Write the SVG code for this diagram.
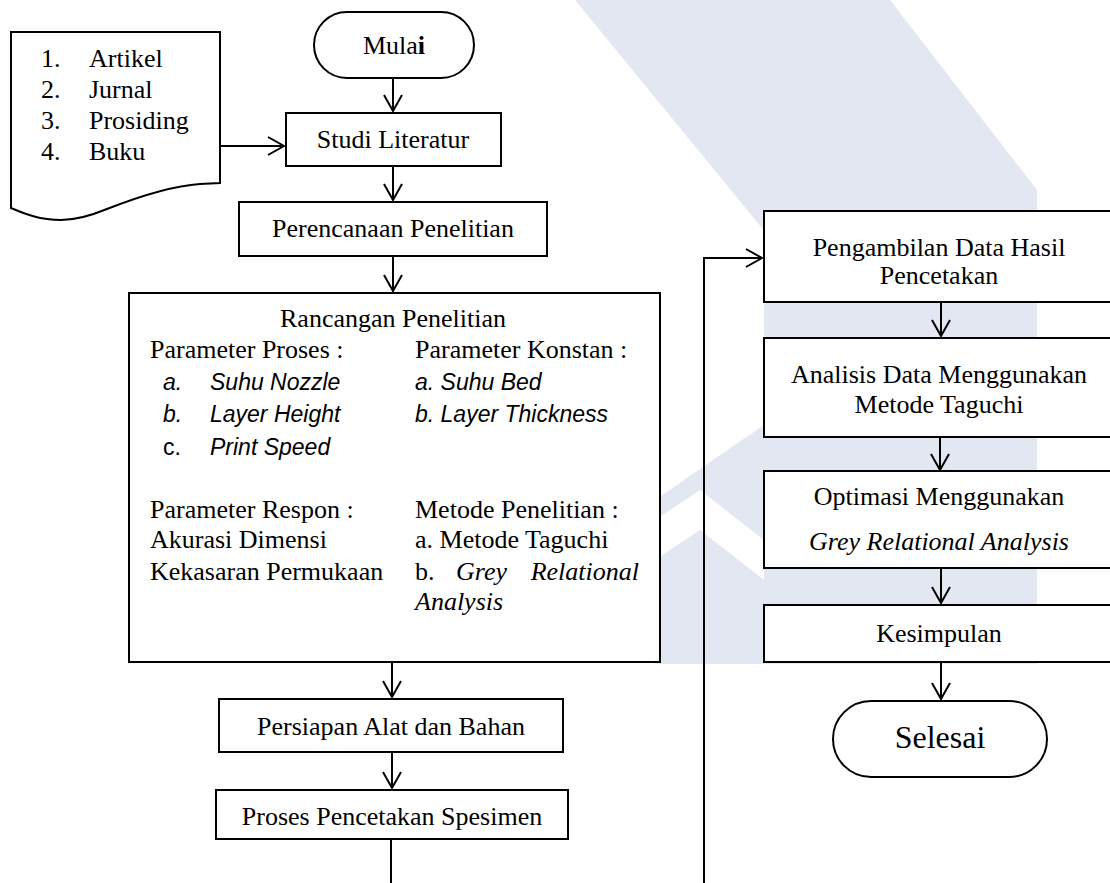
<svg xmlns="http://www.w3.org/2000/svg" width="1110" height="883" viewBox="0 0 1110 883">
<defs>
<style>
.box{fill:#fff;stroke:#000;stroke-width:2}
.wm{fill:#e2e7f2;stroke:none}
.t{font-family:"Liberation Serif","Times New Roman",serif;font-size:26px;fill:#000}
.big{font-size:32px}
.c{text-anchor:middle}
.i{font-style:italic}
.s{font-family:"Liberation Sans",Arial,sans-serif;font-size:23px;fill:#000}
.cn{fill:none;stroke:#000;stroke-width:2}
</style>
<marker id="arr" viewBox="-18 -11 20 22" refX="0" refY="0" markerWidth="20" markerHeight="22" markerUnits="userSpaceOnUse" orient="auto">
<path d="M-16,-9 L0,0 L-16,9" fill="none" stroke="#000" stroke-width="2"/>
</marker>
</defs>
<rect width="1110" height="883" fill="#fff"/>
<g id="watermark">
<polygon class="wm" points="575,0 890,0 1037,190 1037,250 780,250"/>
<rect class="wm" x="764" y="245" width="273" height="419"/>
<polygon class="wm" points="655,500 764,425 764,664 655,664"/>
<polygon fill="#fff" points="655,520 700,490 764,540 764,580 700,530 655,560"/>
</g>
<g id="connectors">
<line class="cn" x1="393" y1="78" x2="393" y2="111" marker-end="url(#arr)"/>
<line class="cn" x1="220" y1="146" x2="284" y2="146" marker-end="url(#arr)"/>
<line class="cn" x1="393" y1="166" x2="393" y2="200" marker-end="url(#arr)"/>
<line class="cn" x1="393" y1="256" x2="393" y2="291" marker-end="url(#arr)"/>
<line class="cn" x1="392" y1="662" x2="392" y2="697" marker-end="url(#arr)"/>
<line class="cn" x1="392" y1="752" x2="392" y2="788" marker-end="url(#arr)"/>
<line class="cn" x1="391" y1="839" x2="391" y2="885"/>
<path class="cn" d="M704,885 V258 H762" marker-end="url(#arr)"/>
<line class="cn" x1="941" y1="302" x2="941" y2="336" marker-end="url(#arr)"/>
<line class="cn" x1="940" y1="437" x2="940" y2="470" marker-end="url(#arr)"/>
<line class="cn" x1="941" y1="568" x2="941" y2="603" marker-end="url(#arr)"/>
<line class="cn" x1="941" y1="662" x2="941" y2="699" marker-end="url(#arr)"/>
</g>
<g id="sumber">
<path class="box" d="M11,32 H220 V183 L200,184 C170,186 130,200 107,209 C90,216 75,220 61,220 C40,220 25,214 11,208 Z"/>
<text class="t" x="41" y="67">1.</text><text class="t" x="89" y="67">Artikel</text>
<text class="t" x="41" y="98">2.</text><text class="t" x="89" y="98">Jurnal</text>
<text class="t" x="41" y="129">3.</text><text class="t" x="89" y="129">Prosiding</text>
<text class="t" x="41" y="160">4.</text><text class="t" x="89" y="160">Buku</text>
</g>
<g id="mulai">
<rect class="box" x="314" y="12" width="160" height="66" rx="33"/>
<text class="t c" x="394" y="54">Mula<tspan font-weight="bold">i</tspan></text>
</g>
<g id="studi">
<rect class="box" x="286" y="113" width="215" height="53"/>
<text class="t c" x="393" y="148">Studi Literatur</text>
</g>
<g id="perencanaan">
<rect class="box" x="239" y="202" width="308" height="54"/>
<text class="t c" x="393" y="237">Perencanaan Penelitian</text>
</g>
<g id="rancangan">
<rect class="box" x="129" y="293" width="531" height="369"/>
<text class="t c" x="393" y="327">Rancangan Penelitian</text>
<text class="t" x="150" y="358">Parameter Proses :</text>
<text class="s i" x="163" y="390">a.</text><text class="s i" x="210" y="390">Suhu Nozzle</text>
<text class="s i" x="163" y="422">b.</text><text class="s i" x="210" y="422">Layer Height</text>
<text class="s" x="163" y="455">c.</text><text class="s i" x="210" y="455">Print Speed</text>
<text class="t" x="415" y="358">Parameter Konstan :</text>
<text class="s i" x="415" y="390">a. Suhu Bed</text>
<text class="s i" x="415" y="422">b. Layer Thickness</text>
<text class="t" x="150" y="518">Parameter Respon :</text>
<text class="t" x="150" y="548">Akurasi Dimensi</text>
<text class="t" x="150" y="580">Kekasaran Permukaan</text>
<text class="t" x="415" y="518">Metode Penelitian :</text>
<text class="t" x="415" y="548">a. Metode Taguchi</text>
<text class="t" x="415" y="580">b.</text><text class="t i" x="456" y="580">Grey</text><text class="t i" x="639" y="580" text-anchor="end">Relational</text>
<text class="t i" x="415" y="610">Analysis</text>
</g>
<g id="persiapan">
<rect class="box" x="219" y="699" width="344" height="53"/>
<text class="t c" x="391" y="735">Persiapan Alat dan Bahan</text>
</g>
<g id="proses">
<rect class="box" x="216" y="790" width="352" height="49"/>
<text class="t c" x="392" y="825">Proses Pencetakan Spesimen</text>
</g>
<g id="pengambilan">
<rect class="box" x="764" y="211" width="360" height="91"/>
<text class="t c" x="939" y="256">Pengambilan Data Hasil</text>
<text class="t c" x="939" y="284">Pencetakan</text>
</g>
<g id="analisis">
<rect class="box" x="764" y="338" width="360" height="99"/>
<text class="t c" x="939" y="383">Analisis Data Menggunakan</text>
<text class="t c" x="939" y="413">Metode Taguchi</text>
</g>
<g id="optimasi">
<rect class="box" x="764" y="471" width="360" height="97"/>
<text class="t c" x="939" y="505">Optimasi Menggunakan</text>
<text class="t c i" x="939" y="550">Grey Relational Analysis</text>
</g>
<g id="kesimpulan">
<rect class="box" x="764" y="605" width="360" height="57"/>
<text class="t c" x="939" y="642">Kesimpulan</text>
</g>
<g id="selesai">
<rect class="box" x="833" y="701" width="214" height="76" rx="38"/>
<text class="t c big" x="940" y="748">Selesai</text>
</g>
</svg>
